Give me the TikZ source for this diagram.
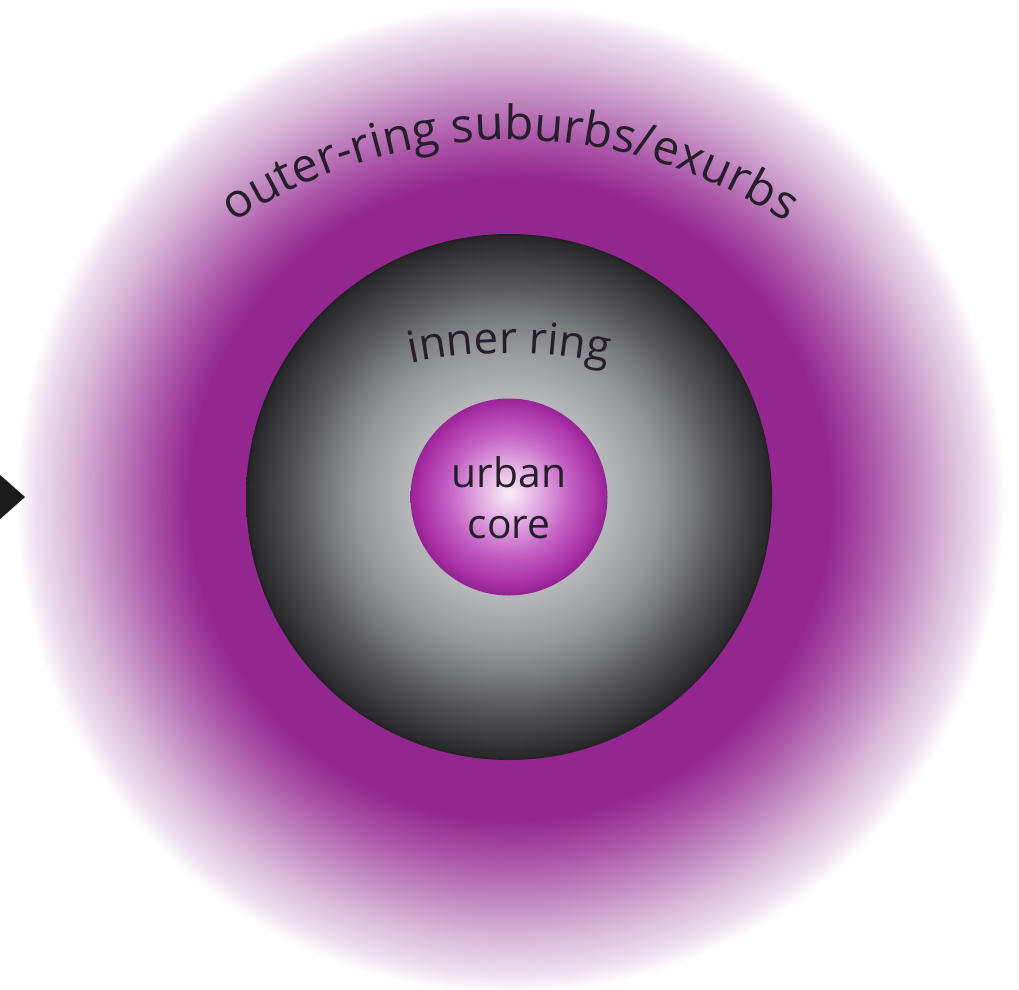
\documentclass[tikz,border=0pt]{standalone}
\usepackage{fontspec}
\newfontfamily\labfont{Open Sans}
\usetikzlibrary{decorations.text}
\definecolor{purp}{RGB}{147,39,143}
\definecolor{purpA}{RGB}{170,83,167}
\definecolor{purpB}{RGB}{192,135,191}
\definecolor{purpC}{RGB}{218,186,218}
\definecolor{purpD}{RGB}{238,224,238}
\definecolor{grA}{RGB}{222,223,226}
\definecolor{grB}{RGB}{182,183,186}
\definecolor{grC}{RGB}{150,151,154}
\definecolor{grD}{RGB}{122,123,126}
\definecolor{grE}{RGB}{88,88,91}
\definecolor{grF}{RGB}{60,60,62}
\definecolor{grG}{RGB}{40,40,42}
\definecolor{grH}{RGB}{32,32,34}
\definecolor{coA}{RGB}{248,238,248}
\definecolor{coB}{RGB}{226,172,226}
\definecolor{coC}{RGB}{196,98,196}
\definecolor{coD}{RGB}{170,52,168}
\definecolor{coE}{RGB}{150,35,148}
\definecolor{txt}{RGB}{38,30,42}
\definecolor{arrowc}{RGB}{28,28,28}
\pgfdeclareradialshading{outerglow}{\pgfpoint{0bp}{0bp}}{color(0bp)=(purp); color(16.2bp)=(purp); color(18.2bp)=(purpA); color(20.2bp)=(purpB); color(22.2bp)=(purpC); color(24bp)=(purpD); color(25bp)=(white); color(50bp)=(white)}
\pgfdeclareradialshading{innerring}{\pgfpoint{0bp}{0bp}}{color(0bp)=(grA); color(9.5bp)=(grB); color(14.3bp)=(grC); color(17.1bp)=(grD); color(20bp)=(grE); color(22.8bp)=(grF); color(24.7bp)=(grG); color(25bp)=(grH); color(50bp)=(grH)}
\pgfdeclareradialshading{coreball}{\pgfpoint{0bp}{1bp}}{color(0bp)=(coA); color(7.6bp)=(coB); color(15.3bp)=(coC); color(22bp)=(coD); color(25bp)=(coE); color(50bp)=(coE)}
\tikzset{
  lab/.style={font=\labfont\fontsize{11.6pt}{14pt}\selectfont, text=txt, inner sep=0pt},
}
\begin{document}
\begin{tikzpicture}
\useasboundingbox (0,0) rectangle (10.19,9.89);
\fill[white] (0,0) rectangle (10.19,9.89);
\clip (0,0) rectangle (10.19,9.89);
\coordinate (oc) at (5.10,4.90);
\coordinate (c) at (5.09,4.92);
% outer glow
\shade[shading=outerglow] (oc) circle (4.95);
% inner ring
\shade[shading=innerring] (c) circle (2.63);
% urban core
\shade[shading=coreball] (c) circle (0.985);
% arrowhead at left
\fill[arrowc] (-0.10,5.23) -- (0.25,4.92) -- (-0.10,4.61) -- cycle;
% labels
\node[lab, anchor=base] (urban) at (5.09,5.02) {urban};
\node[lab, anchor=base] (core) at (5.09,4.51) {core};
\coordinate (tc) at (5.10,3.45);
\path[decorate, decoration={text along path, text align={center},
  text={|\labfont\fontsize{13.5pt}{16pt}\selectfont\color{txt}|outer-ring suburbs/exurbs}}]
  (tc) ++(150:5.04) arc[start angle=150, end angle=30, radius=5.04];
\coordinate (ic) at (5.09,1.46);
\path[decorate, decoration={text along path, text align={center},
  text={|\labfont\fontsize{12.5pt}{15pt}\selectfont\color{txt}|inner ring}}]
  (ic) ++(110:4.90) arc[start angle=110, end angle=70, radius=4.90];
\end{tikzpicture}
\end{document}
